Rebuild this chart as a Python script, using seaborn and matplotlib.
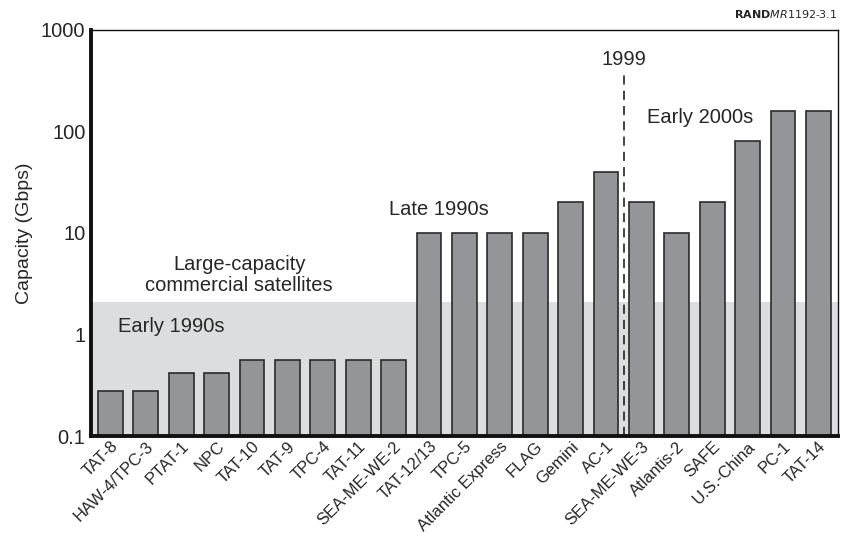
import matplotlib
matplotlib.use('Agg')
import matplotlib.pyplot as plt
import seaborn as sns
import pandas as pd

# cable systems and their capacity in Gbps
cables = ['TAT-8', 'HAW-4/TPC-3', 'PTAT-1', 'NPC', 'TAT-10', 'TAT-9', 'TPC-4',
          'TAT-11', 'SEA-ME-WE-2', 'TAT-12/13', 'TPC-5', 'Atlantic Express',
          'FLAG', 'Gemini', 'AC-1', 'SEA-ME-WE-3', 'Atlantis-2', 'SAFE',
          'U.S.-China', 'PC-1', 'TAT-14']
capacity = [0.28, 0.28, 0.42, 0.42, 0.56, 0.56, 0.56, 0.56, 0.56,
            10, 10, 10, 10, 20, 40, 20, 10, 20, 80, 160, 160]
satellite_cap = 2.1

df = pd.DataFrame({'Cable': cables, 'Capacity': capacity})

sns.set_style('white')
plt.rcParams['font.family'] = ['Liberation Sans', 'DejaVu Sans']

fig = plt.figure(figsize=(8.42, 5.55), dpi=100)
ax = fig.add_axes([0.108, 0.2144, 0.887, 0.732])

# shaded band for satellite capacity
ax.axhspan(0.1, satellite_cap, color='#dcdde0', zorder=0, lw=0)

sns.barplot(data=df, x='Cable', y='Capacity', ax=ax, color='#939598',
            edgecolor='#2b2b2b', linewidth=1.2, width=0.7, saturation=1,
            zorder=2)
ax.set_yscale('log')

ax.set_ylim(0.1, 1000)
ax.set_xlim(-0.55, len(cables) - 0.45)
ax.set_yticks([0.1, 1, 10, 100, 1000])
ax.set_yticklabels(['0.1', '1', '10', '100', '1000'], fontsize=14.5)
ax.minorticks_off()
ax.tick_params(axis='y', direction='in', length=6, width=1, color='#555555', pad=4)
ax.tick_params(axis='x', length=0, pad=2)
ax.set_xticks(range(len(cables)))
ax.set_xticklabels(cables, rotation=45, ha='right', rotation_mode='anchor', fontsize=12)
ax.set_xlabel('')
ax.set_ylabel('Capacity (Gbps)', fontsize=14, labelpad=6)

# spines
for s in ['left', 'bottom']:
    ax.spines[s].set_linewidth(2.8)
    ax.spines[s].set_color('#111111')
for s in ['top', 'right']:
    ax.spines[s].set_linewidth(1)
    ax.spines[s].set_color('#111111')

# 1999 divider
ax.plot([14.5, 14.5], [0.1, 400], ls=(0, (6, 4)), color='#111111', lw=1.1, zorder=3)
ax.text(14.5, 506, '1999', ha='center', va='center', fontsize=14.5)

# era labels
ax.text(0.21, 1.19, 'Early 1990s', ha='left', va='center', fontsize=14.5)
ax.text(3.64, 3.86, 'Large-capacity\ncommercial satellites', ha='center',
        va='center', fontsize=14.5, linespacing=1.15)
ax.text(7.86, 16.9, 'Late 1990s', ha='left', va='center', fontsize=14.5)
ax.text(15.17, 136, 'Early 2000s', ha='left', va='center', fontsize=14.5)

fig.text(0.994, 0.975, r'$\bf{RAND}$' + r'$\it{MR1192}$-$\it{3.1}$', ha='right',
         va='center', fontsize=8)

fig.savefig('out.png', dpi=100)
